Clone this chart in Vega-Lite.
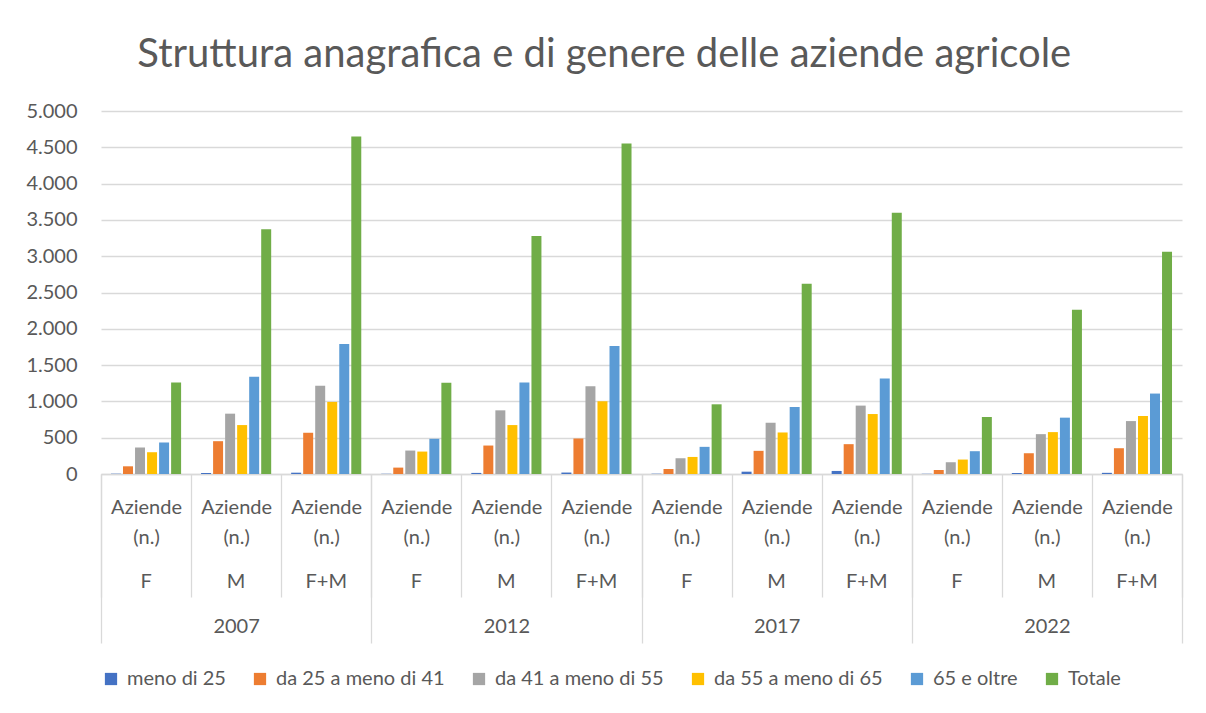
{
 "$schema": "https://vega.github.io/schema/vega-lite/v6.json",
 "autosize": {"type": "none"},
 "width": 1081,
 "height": 363,
 "padding": {"left": 101, "top": 111, "right": 24, "bottom": 239},
 "background": "white",
 "title": {"text": "Struttura anagrafica e di genere delle aziende agricole", "fontSize": 40, "font": "Lato", "fontWeight": "normal", "color": "#595959", "offset": 26, "anchor": "middle", "frame": "bounds"},
 "config": {"view": {"stroke": null}, "font": "Lato"},
 "data": {"values": [
  {"year": "2007", "key": "2007|F", "series": "meno di 25", "value": 4},
  {"year": "2007", "key": "2007|F", "series": "da 25 a meno di 41", "value": 106},
  {"year": "2007", "key": "2007|F", "series": "da 41 a meno di 55", "value": 365},
  {"year": "2007", "key": "2007|F", "series": "da 55 a meno di 65", "value": 300},
  {"year": "2007", "key": "2007|F", "series": "65 e oltre", "value": 434},
  {"year": "2007", "key": "2007|F", "series": "Totale", "value": 1260},
  {"year": "2007", "key": "2007|M", "series": "meno di 25", "value": 14},
  {"year": "2007", "key": "2007|M", "series": "da 25 a meno di 41", "value": 452},
  {"year": "2007", "key": "2007|M", "series": "da 41 a meno di 55", "value": 831},
  {"year": "2007", "key": "2007|M", "series": "da 55 a meno di 65", "value": 674},
  {"year": "2007", "key": "2007|M", "series": "65 e oltre", "value": 1339},
  {"year": "2007", "key": "2007|M", "series": "Totale", "value": 3370},
  {"year": "2007", "key": "2007|F+M", "series": "meno di 25", "value": 18},
  {"year": "2007", "key": "2007|F+M", "series": "da 25 a meno di 41", "value": 568},
  {"year": "2007", "key": "2007|F+M", "series": "da 41 a meno di 55", "value": 1214},
  {"year": "2007", "key": "2007|F+M", "series": "da 55 a meno di 65", "value": 993},
  {"year": "2007", "key": "2007|F+M", "series": "65 e oltre", "value": 1791},
  {"year": "2007", "key": "2007|F+M", "series": "Totale", "value": 4649},
  {"year": "2012", "key": "2012|F", "series": "meno di 25", "value": 3},
  {"year": "2012", "key": "2012|F", "series": "da 25 a meno di 41", "value": 88},
  {"year": "2012", "key": "2012|F", "series": "da 41 a meno di 55", "value": 323},
  {"year": "2012", "key": "2012|F", "series": "da 55 a meno di 65", "value": 309},
  {"year": "2012", "key": "2012|F", "series": "65 e oltre", "value": 485},
  {"year": "2012", "key": "2012|F", "series": "Totale", "value": 1256},
  {"year": "2012", "key": "2012|M", "series": "meno di 25", "value": 15},
  {"year": "2012", "key": "2012|M", "series": "da 25 a meno di 41", "value": 392},
  {"year": "2012", "key": "2012|M", "series": "da 41 a meno di 55", "value": 877},
  {"year": "2012", "key": "2012|M", "series": "da 55 a meno di 65", "value": 674},
  {"year": "2012", "key": "2012|M", "series": "65 e oltre", "value": 1260},
  {"year": "2012", "key": "2012|M", "series": "Totale", "value": 3278},
  {"year": "2012", "key": "2012|F+M", "series": "meno di 25", "value": 20},
  {"year": "2012", "key": "2012|F+M", "series": "da 25 a meno di 41", "value": 489},
  {"year": "2012", "key": "2012|F+M", "series": "da 41 a meno di 55", "value": 1210},
  {"year": "2012", "key": "2012|F+M", "series": "da 55 a meno di 65", "value": 1002},
  {"year": "2012", "key": "2012|F+M", "series": "65 e oltre", "value": 1764},
  {"year": "2012", "key": "2012|F+M", "series": "Totale", "value": 4552},
  {"year": "2017", "key": "2017|F", "series": "meno di 25", "value": 4},
  {"year": "2017", "key": "2017|F", "series": "da 25 a meno di 41", "value": 69},
  {"year": "2017", "key": "2017|F", "series": "da 41 a meno di 55", "value": 217},
  {"year": "2017", "key": "2017|F", "series": "da 55 a meno di 65", "value": 235},
  {"year": "2017", "key": "2017|F", "series": "65 e oltre", "value": 374},
  {"year": "2017", "key": "2017|F", "series": "Totale", "value": 960},
  {"year": "2017", "key": "2017|M", "series": "meno di 25", "value": 32},
  {"year": "2017", "key": "2017|M", "series": "da 25 a meno di 41", "value": 319},
  {"year": "2017", "key": "2017|M", "series": "da 41 a meno di 55", "value": 706},
  {"year": "2017", "key": "2017|M", "series": "da 55 a meno di 65", "value": 572},
  {"year": "2017", "key": "2017|M", "series": "65 e oltre", "value": 923},
  {"year": "2017", "key": "2017|M", "series": "Totale", "value": 2622},
  {"year": "2017", "key": "2017|F+M", "series": "meno di 25", "value": 42},
  {"year": "2017", "key": "2017|F+M", "series": "da 25 a meno di 41", "value": 411},
  {"year": "2017", "key": "2017|F+M", "series": "da 41 a meno di 55", "value": 942},
  {"year": "2017", "key": "2017|F+M", "series": "da 55 a meno di 65", "value": 826},
  {"year": "2017", "key": "2017|F+M", "series": "65 e oltre", "value": 1316},
  {"year": "2017", "key": "2017|F+M", "series": "Totale", "value": 3597},
  {"year": "2022", "key": "2022|F", "series": "meno di 25", "value": 3},
  {"year": "2022", "key": "2022|F", "series": "da 25 a meno di 41", "value": 55},
  {"year": "2022", "key": "2022|F", "series": "da 41 a meno di 55", "value": 162},
  {"year": "2022", "key": "2022|F", "series": "da 55 a meno di 65", "value": 199},
  {"year": "2022", "key": "2022|F", "series": "65 e oltre", "value": 314},
  {"year": "2022", "key": "2022|F", "series": "Totale", "value": 785},
  {"year": "2022", "key": "2022|M", "series": "meno di 25", "value": 14},
  {"year": "2022", "key": "2022|M", "series": "da 25 a meno di 41", "value": 286},
  {"year": "2022", "key": "2022|M", "series": "da 41 a meno di 55", "value": 549},
  {"year": "2022", "key": "2022|M", "series": "da 55 a meno di 65", "value": 577},
  {"year": "2022", "key": "2022|M", "series": "65 e oltre", "value": 776},
  {"year": "2022", "key": "2022|M", "series": "Totale", "value": 2262},
  {"year": "2022", "key": "2022|F+M", "series": "meno di 25", "value": 16},
  {"year": "2022", "key": "2022|F+M", "series": "da 25 a meno di 41", "value": 355},
  {"year": "2022", "key": "2022|F+M", "series": "da 41 a meno di 55", "value": 729},
  {"year": "2022", "key": "2022|F+M", "series": "da 55 a meno di 65", "value": 799},
  {"year": "2022", "key": "2022|F+M", "series": "65 e oltre", "value": 1108},
  {"year": "2022", "key": "2022|F+M", "series": "Totale", "value": 3061}
 ]},
 "encoding": {
  "y": {"field": "value", "type": "quantitative",
    "scale": {"domain": [0, 5000], "nice": false},
    "axis": {"title": null, "values": [0, 500, 1000, 1500, 2000, 2500, 3000, 3500, 4000, 4500, 5000],
      "labelExpr": "replace(format(datum.value, ','), ',', '.')", "labelOverlap": false,
      "domain": false, "ticks": false, "grid": true, "gridColor": "#d9d9d9", "gridWidth": 1.3,
      "labelFontSize": 20, "labelFont": "Lato", "labelColor": "#595959", "labelPadding": 24}}
 },
 "layer": [
  {
   "mark": {"type": "bar"},
   "encoding": {
    "x": {"field": "key", "type": "nominal", "sort": null,
      "scale": {"type": "band", "paddingInner": 0, "paddingOuter": 0},
      "axis": {"title": null, "labelExpr": "datum.label ? ['Aziende', '(n.)'] : ''",
        "labelAngle": 0, "labelFontSize": 20, "labelFont": "Lato", "labelColor": "#595959", "labelLineHeight": 30,
        "labelPadding": -100, "labelBaseline": "top", "labelOverlap": false, "labelFlush": false,
        "tickBand": "extent", "tickSize": 123, "tickColor": "#d9d9d9", "tickWidth": 1.3,
        "domainColor": "#d9d9d9", "domainWidth": 1.3, "grid": false}},
    "xOffset": {"field": "series", "type": "nominal",
      "sort": ["meno di 25", "da 25 a meno di 41", "da 41 a meno di 55", "da 55 a meno di 65", "65 e oltre", "Totale"],
      "scale": {"paddingInner": 0.17, "paddingOuter": 0.83}},
    "color": {"field": "series", "type": "nominal",
      "sort": ["meno di 25", "da 25 a meno di 41", "da 41 a meno di 55", "da 55 a meno di 65", "65 e oltre", "Totale"],
      "scale": {"domain": ["meno di 25", "da 25 a meno di 41", "da 41 a meno di 55", "da 55 a meno di 65", "65 e oltre", "Totale"],
        "range": ["#4472C4", "#ED7D31", "#A5A5A5", "#FFC000", "#5B9BD5", "#70AD47"]},
      "legend": {"orient": "bottom", "direction": "horizontal", "title": null, "symbolType": "square", "symbolSize": 150,
        "symbolStrokeWidth": 0, "labelFontSize": 20, "labelFont": "Lato", "labelColor": "#595959", "labelLimit": 400,
        "columnPadding": 24, "labelOffset": 6, "offset": 25}}
   }
  },
  {
   "mark": {"type": "point", "opacity": 0},
   "encoding": {
    "x": {"field": "key", "type": "nominal", "sort": null,
      "scale": {"type": "band", "paddingInner": 0, "paddingOuter": 0},
      "axis": {"title": null, "labelExpr": "split(datum.value, '|')[1]", "labelAngle": 0, "labelFontSize": 20,
        "labelFont": "Lato", "labelColor": "#595959", "labelPadding": 97, "labelBaseline": "top",
        "labelOverlap": false, "labelFlush": false, "ticks": false, "domain": false, "grid": false, "orient": "bottom"}}
   }
  },
  {
   "mark": {"type": "point", "opacity": 0},
   "encoding": {
    "x": {"field": "year", "type": "nominal", "sort": null,
      "scale": {"type": "band", "paddingInner": 0, "paddingOuter": 0},
      "axis": {"title": null, "labelAngle": 0, "labelFontSize": 20, "labelFont": "Lato", "labelColor": "#595959",
        "labelPadding": -27, "labelBaseline": "top", "tickBand": "extent", "tickSize": 169, "tickColor": "#d9d9d9",
        "labelFlush": false, "tickWidth": 1.3, "domain": false, "grid": false, "orient": "bottom"}}
   }
  }
 ],
 "resolve": {"scale": {"x": "independent"}, "axis": {"x": "independent"}}
}
